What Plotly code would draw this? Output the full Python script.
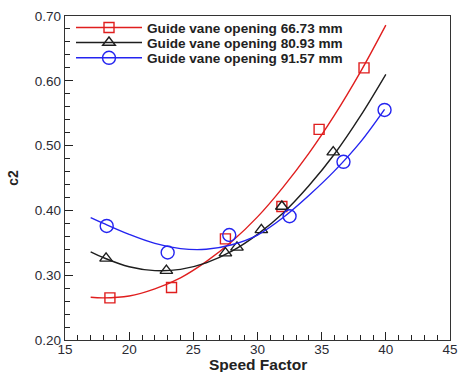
import plotly.graph_objects as go

# Measured points: c2 versus speed factor for three guide vane openings
red_x = [18.5, 23.3, 27.5, 31.9, 34.8, 38.3]
red_y = [0.265, 0.281, 0.356, 0.406, 0.525, 0.620]
black_x = [18.2, 22.9, 27.5, 28.4, 30.3, 31.9, 35.9]
black_y = [0.326, 0.307, 0.334, 0.343, 0.370, 0.406, 0.490]
blue_x = [18.25, 23.0, 27.8, 32.5, 36.7, 39.9]
blue_y = [0.376, 0.335, 0.362, 0.391, 0.475, 0.555]

# Fitted trend curves
fit_x = [17, 18, 20, 22, 24, 26, 28, 30, 32, 34, 36, 38, 40]
red_fit = [0.266, 0.265, 0.268, 0.279, 0.296, 0.321, 0.352, 0.390, 0.436, 0.488, 0.547, 0.613, 0.686]
black_fit = [0.336, 0.327, 0.313, 0.307, 0.309, 0.319, 0.337, 0.363, 0.396, 0.438, 0.487, 0.545, 0.610]
blue_fit_x = [17, 18, 20, 22, 24, 26, 28, 30, 32, 34, 36, 38, 39.9]
blue_fit = [0.389, 0.380, 0.363, 0.349, 0.341, 0.340, 0.347, 0.362, 0.389, 0.423, 0.461, 0.505, 0.556]

labels = ["Guide vane opening 66.73 mm",
          "Guide vane opening 80.93 mm",
          "Guide vane opening 91.57 mm"]
colors = ["#e01e1e", "#1e1e1e", "#2424f0"]
symbols = ["square-open", "triangle-up-open", "circle-open"]
sizes = [10, 11, 13]
legend_ids = ["legend", "legend2", "legend3"]
legend_rows = [0.9640, 0.9177, 0.8705]

FONT = "Liberation Sans, Arial, sans-serif"

fig = go.Figure()
series = [(red_x, red_y, fit_x, red_fit),
          (black_x, black_y, fit_x, black_fit),
          (blue_x, blue_y, blue_fit_x, blue_fit)]
for i, (mx, my, fx, fy) in enumerate(series):
    fig.add_trace(go.Scatter(
        x=fx, y=fy, mode="lines", line=dict(color=colors[i], width=1.4, shape="spline"),
        showlegend=False, hoverinfo="skip"))
    fig.add_trace(go.Scatter(
        x=mx, y=my, mode="markers", showlegend=False,
        marker=dict(symbol=symbols[i], size=sizes[i], color=colors[i], line=dict(width=1.4))))
    # legend entry: line with marker, one legend per row
    fig.add_trace(go.Scatter(
        x=[None], y=[None], mode="lines+markers", name=labels[i], legend=legend_ids[i],
        line=dict(color=colors[i], width=1.4),
        marker=dict(symbol=symbols[i], size=sizes[i], color=colors[i], line=dict(width=1.4))))

legend_common = dict(x=0.0156, xanchor="left", yanchor="middle",
                     bgcolor="rgba(0,0,0,0)", itemwidth=66,
                     font=dict(size=13.6, family=FONT, color="#222", weight="bold"))
layout_legends = {}
for lid, ly in zip(legend_ids, legend_rows):
    layout_legends[lid] = dict(legend_common, y=ly)

tick_font = dict(family=FONT, size=13.5, color="#2a2a33")
fig.update_layout(
    width=459, height=372,
    margin=dict(l=65, r=9, t=16, b=32),
    paper_bgcolor="white", plot_bgcolor="white",
    font=dict(family=FONT, color="#222"),
    xaxis=dict(range=[15, 45], dtick=5, tick0=15, ticks="inside", ticklen=8, tickwidth=1.2,
               tickcolor="#222", showline=True, linecolor="#333", linewidth=1.4, mirror=True,
               showgrid=False, zeroline=False, tickfont=tick_font, automargin=False,
               ticklabelstandoff=-3,
               minor=dict(ticks="inside", dtick=1, ticklen=5, tickcolor="#222", showgrid=False)),
    yaxis=dict(range=[0.2, 0.7], dtick=0.1, tick0=0.2, ticks="inside", ticklen=8, tickwidth=1.2,
               tickcolor="#222", showline=True, linecolor="#333", linewidth=1.4, mirror=True,
               showgrid=False, zeroline=False, tickfont=tick_font, tickformat=".2f",
               automargin=False,
               minor=dict(ticks="inside", dtick=0.02, ticklen=5, tickcolor="#222", showgrid=False),
               title=dict(text="c2", standoff=12,
                          font=dict(size=14, family=FONT, color="#222", weight="bold"))),
    annotations=[dict(text="Speed Factor", xref="paper", yref="paper", x=0.5, y=-0.0765,
                      xanchor="center", yanchor="middle", showarrow=False, borderpad=0,
                      font=dict(size=15.5, family=FONT, color="#222", weight="bold"))],
    **layout_legends,
)

fig.write_html("out.html")
